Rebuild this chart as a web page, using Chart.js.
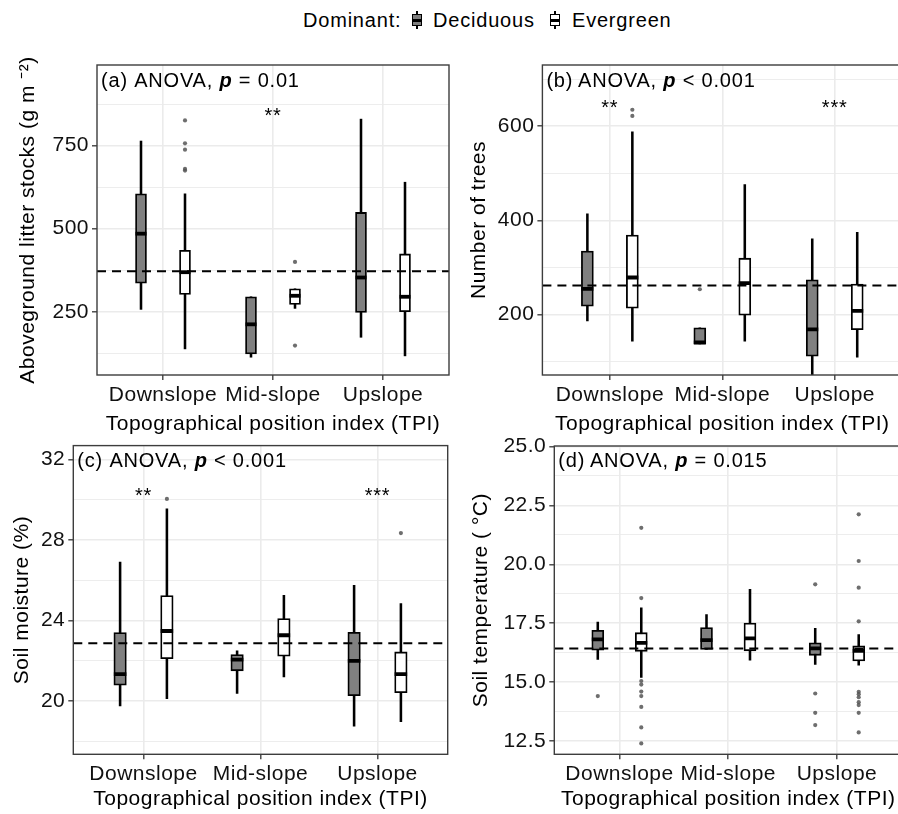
<!DOCTYPE html>
<html>
<head>
<meta charset="utf-8">
<script src="https://cdn.jsdelivr.net/npm/chart.js@4.4.1/dist/chart.umd.min.js"></script>
<style>
  html, body { margin: 0; padding: 0; background: #fff; }
  #fig { position: relative; width: 898px; height: 814px; overflow: hidden; background: #fff; }
  #fig canvas { position: absolute; }
  .lg { position: absolute; top: 8px; font: 20px "Liberation Sans", Arial, sans-serif; letter-spacing: 0.8px; line-height: 24px; color: #000; white-space: nowrap; }
  .key { position: absolute; top: 11px; width: 10px; height: 18px; }
  .key .wh { position: absolute; left: 4px; top: 0; width: 2px; height: 18px; background: #000; }
  .key .bx { position: absolute; left: 0; top: 3px; width: 10px; height: 12px; box-sizing: border-box; border: 1.6px solid #000; }
  .key .md { position: absolute; left: 0; top: 7.5px; width: 10px; height: 3px; background: #000; }
</style>
</head>
<body>
<div id="fig">
  <div id="legend"></div>
  <canvas id="pa" width="462" height="400" style="left:0;top:40px"></canvas>
  <canvas id="pb" width="450" height="400" style="left:462px;top:40px"></canvas>
  <canvas id="pc" width="462" height="384" style="left:0;top:430px"></canvas>
  <canvas id="pd" width="450" height="384" style="left:462px;top:430px"></canvas>
</div>
<script>
// ---- data -------------------------------------------------------------
const positions = ['Downslope', 'Mid-slope', 'Upslope'];
const groups = ['Deciduous', 'Evergreen'];
const groupFill = ['#808080', '#ffffff'];
const xTitle = 'Topographical position index (TPI)';

// box summaries per position: [lower whisker, Q1, median, Q3, upper whisker]
const litterDeciduous = [[257, 336, 485, 605, 764], [113, 123, 212, 295, 295], [173, 248, 353, 549, 830]];
const litterEvergreen = [[138, 302, 369, 435, 605], [260, 272, 298, 319, 319], [117, 250, 295, 424, 640]];
const litterOutDeciduous = [[], [], []];
const litterOutEvergreen = [[826, 757, 738, 680, 675], [400, 148], []];
const litterMean = 372;
const litterTicks = [250, 500, 750];
const litterMinorTicks = [125, 375, 625, 875];
const litterStars = [['**', 2, 855]];

const treesDeciduous = [[187, 218, 255, 335, 414], [138, 138, 141, 172, 172], [55, 112, 169, 274, 361]];
const treesEvergreen = [[144, 214, 279, 369, 588], [144, 199, 267, 320, 476], [110, 168, 208, 265, 375]];
const treesOutDeciduous = [[], [254], []];
const treesOutEvergreen = [[635, 622], [], []];
const treesMean = 262;
const treesTicks = [200, 400, 600];
const treesMinorTicks = [100, 300, 500, 700];
const treesStars = [['**', 1, 651], ['***', 3, 651]];

const moistureDeciduous = [[19.74, 20.78, 21.33, 23.39, 26.9], [20.37, 21.49, 22.05, 22.3, 22.48], [18.74, 20.25, 21.99, 23.41, 25.74]];
const moistureEvergreen = [[20.1, 22.09, 23.47, 25.23, 29.55], [21.19, 22.22, 23.26, 24.09, 25.25], [18.96, 20.4, 21.33, 22.43, 24.83]];
const moistureOutDeciduous = [[], [], []];
const moistureOutEvergreen = [[30.04], [], [28.34]];
const moistureMean = 22.86;
const moistureTicks = [20, 24, 28, 32];
const moistureMinorTicks = [18, 22, 26, 30];
const moistureStars = [['**', 1, 30.44], ['***', 3, 30.44]];

const tempDeciduous = [[15.97, 16.36, 16.82, 17.2, 17.55], [16.39, 16.39, 16.78, 17.32, 17.87], [15.75, 16.14, 16.43, 16.67, 17.28]];
const tempEvergreen = [[15.2, 16.31, 16.67, 17.1, 18.15], [15.93, 16.33, 16.86, 17.51, 18.94], [15.72, 15.9, 16.33, 16.54, 17.02]];
const tempOutDeciduous = [[14.41], [], [19.15, 14.52, 13.7, 13.18]];
const tempOutEvergreen = [[21.55, 18.57, 15.05, 14.9, 14.6, 14.41, 13.95, 13.08, 12.4], [], [22.12, 20.14, 19.01, 17.58, 14.59, 14.49, 14.36, 14.15, 14.03, 13.7, 12.87]];
const tempMean = 16.43;
const tempTicks = [12.5, 15, 17.5, 20, 22.5, 25];
const tempMinorTicks = [13.75, 16.25, 18.75, 21.25, 23.75];
const tempStars = [];

// ---- drawing ----------------------------------------------------------
const FONT = '"Liberation Sans", Arial, sans-serif';
const AXIS_SPACING = '0.5px';
const LABEL_SPACING = '0.8px';
Chart.defaults.font.family = FONT;
Chart.defaults.font.size = 21;
Chart.defaults.color = '#111';

// panel frame, in-panel heading and significance marks
const panelDecor = {
  id: 'panelDecor',
  beforeDraw(chart) { chart.ctx.letterSpacing = AXIS_SPACING; },
  afterDatasetsDraw(chart, args, opts) {
    const { ctx, chartArea: a, scales: { x, y } } = chart;
    ctx.save();
    ctx.letterSpacing = LABEL_SPACING;
    ctx.fillStyle = '#000';
    ctx.textBaseline = 'alphabetic';
    ctx.textAlign = 'center';
    ctx.font = '20px ' + FONT;
    for (const [txt, pos, val] of opts.stars) {
      ctx.fillText(txt, x.getPixelForValue(pos), y.getPixelForValue(val) + 11.5);
    }
    ctx.textAlign = 'left';
    let cx = a.left + 4;
    const by = a.top + opts.labelDy;
    opts.label.forEach((part, k) => {
      ctx.font = (k === 1 ? 'italic bold ' : '') + '20px ' + FONT;
      ctx.fillText(part, cx, by);
      cx += ctx.measureText(part).width;
    });
    ctx.strokeStyle = '#3d3d3d';
    ctx.lineWidth = 1.4;
    ctx.strokeRect(a.left, a.top, a.right - a.left, a.bottom - a.top);
    ctx.restore();
  }
};

function buildPanel(id, p) {
  const dodge = 0.2;
  const sets = [p.dec, p.eve];
  const outs = [p.outDec, p.outEve];
  const xAt = (i, g) => i + 1 + (g === 0 ? -dodge : dodge);

  const whiskers = [], medians = [], outliers = [];
  sets.forEach((arr, g) => arr.forEach((s, i) => {
    whiskers.push({ x: xAt(i, g), y: [s[0], s[4]] });
    medians.push({ x: xAt(i, g), y: s[2] });
  }));
  outs.forEach((arr, g) => arr.forEach((list, i) => list.forEach(v => outliers.push({ x: xAt(i, g), y: v }))));

  const datasets = [
    { type: 'line', label: 'mean', data: [{ x: 0.4, y: p.mean }, { x: 3.6, y: p.mean }],
      borderColor: '#000', borderWidth: 2, borderDash: [9, 6], pointRadius: 0, order: 0 },
    { type: 'scatter', label: 'median', data: medians, pointStyle: 'line', pointRadius: p.box / 2,
      pointBorderWidth: 3.8, pointBorderColor: '#000', order: 1 },
    { type: 'scatter', label: 'outliers', data: outliers, pointRadius: 2.1, pointBorderWidth: 0,
      pointBackgroundColor: 'rgba(85,85,85,0.85)', order: 2 },
    ...sets.map((arr, g) => ({
      type: 'bar', label: groups[g], data: arr.map((s, i) => ({ x: xAt(i, g), y: [s[1], s[3]] })),
      backgroundColor: groupFill[g], borderColor: '#000', borderWidth: 1.8, borderSkipped: false,
      grouped: false, barThickness: p.box, order: 3
    })),
    { type: 'bar', label: 'whiskers', data: whiskers, backgroundColor: '#000', borderWidth: 0,
      grouped: false, barThickness: 1.9, order: 4 }
  ];

  const isMinor = c => !!(c.tick && c.tick.minor);
  new Chart(document.getElementById(id), {
    type: 'bar',
    data: { datasets },
    plugins: [panelDecor],
    options: {
      responsive: false,
      animation: false,
      events: [],
      layout: { padding: { left: 0, top: p.padTop, right: p.padRight, bottom: 0 } },
      plugins: {
        legend: { display: false },
        tooltip: { enabled: false },
        panelDecor: { label: p.label, labelDy: p.labelDy, stars: p.stars }
      },
      scales: {
        x: {
          type: 'linear', min: 0.4, max: 3.6, offset: false, bounds: 'data',
          grid: { offset: false, color: '#ebebeb', lineWidth: 1.6, tickColor: '#333', tickLength: 5, tickWidth: 1.3 },
          border: { display: false },
          ticks: { autoSkip: false, maxRotation: 0, padding: 2.7, color: '#111', callback: v => positions[v - 1] },
          afterBuildTicks: s => { s.ticks = positions.map((_, i) => ({ value: i + 1 })); },
          afterFit: s => { s.height = p.xHeight; },
          title: { display: true, text: xTitle, color: '#000', padding: { top: 0, bottom: p.xTitlePad } }
        },
        y: {
          type: 'linear', min: p.min, max: p.max, bounds: 'data', beginAtZero: false,
          grid: {
            color: '#ebebeb',
            lineWidth: c => isMinor(c) ? 0.9 : 1.6,
            tickColor: c => isMinor(c) ? 'rgba(0,0,0,0)' : '#333',
            tickLength: 5, tickWidth: 1.3
          },
          border: { display: false },
          ticks: { autoSkip: false, padding: 3, color: '#111',
            callback: (v, i, t) => (t[i] && t[i].minor) ? '' : Number(v).toFixed(p.digits) },
          afterBuildTicks: s => {
            s.ticks = p.ticks.map(v => ({ value: v }))
              .concat(p.minorTicks.map(v => ({ value: v, minor: true })))
              .sort((a, b) => a.value - b.value);
          },
          afterFit: s => { s.width = p.yWidth; },
          title: { display: true, text: p.yTitle, color: '#000', padding: { top: p.yTitlePad, bottom: 0 } }
        }
      }
    }
  });
}

buildPanel('pa', {
  dec: litterDeciduous, eve: litterEvergreen, outDec: litterOutDeciduous, outEve: litterOutEvergreen,
  mean: litterMean, ticks: litterTicks, minorTicks: litterMinorTicks, stars: litterStars,
  min: 59.4, max: 993, digits: 0, box: 11,
  yTitle: 'Aboveground litter stocks (g m \u207B\u00B2)', label: ['(a) ANOVA, ', 'p', ' = 0.01'],
  yWidth: 97, xHeight: 65, padTop: 25, padRight: 13, yTitlePad: 15.4, xTitlePad: 2.9, labelDy: 22
});
buildPanel('pb', {
  dec: treesDeciduous, eve: treesEvergreen, outDec: treesOutDeciduous, outEve: treesOutEvergreen,
  mean: treesMean, ticks: treesTicks, minorTicks: treesMinorTicks, stars: treesStars,
  min: 72, max: 730, digits: 0, box: 12,
  yTitle: 'Number of trees', label: ['(b)\u2009ANOVA, ', 'p', ' < 0.001'],
  yWidth: 80.4, xHeight: 65, padTop: 25, padRight: 7.4, yTitlePad: 4.9, xTitlePad: 2.9, labelDy: 22
});
buildPanel('pc', {
  dec: moistureDeciduous, eve: moistureEvergreen, outDec: moistureOutDeciduous, outEve: moistureOutEvergreen,
  mean: moistureMean, ticks: moistureTicks, minorTicks: moistureMinorTicks, stars: moistureStars,
  min: 17.34, max: 32.69, digits: 0, box: 12.5,
  yTitle: 'Soil moisture (%)', label: ['(c) ANOVA, ', 'p', ' < 0.001'],
  yWidth: 73.3, xHeight: 59.7, padTop: 15, padRight: 14.3, yTitlePad: 9.4, xTitlePad: 2.2, labelDy: 21.5
});
buildPanel('pd', {
  dec: tempDeciduous, eve: tempEvergreen, outDec: tempOutDeciduous, outEve: tempOutEvergreen,
  mean: tempMean, ticks: tempTicks, minorTicks: tempMinorTicks, stars: tempStars,
  min: 11.94, max: 25.02, digits: 1, box: 12,
  yTitle: 'Soil temperature ( \u00B0C)', label: ['(d)\u2009ANOVA, ', 'p', ' = 0.015'],
  yWidth: 92.3, xHeight: 59.7, padTop: 16, padRight: 7.3, yTitlePad: 6.4, xTitlePad: 2.2, labelDy: 21
});

// shared legend across the four panels
(function buildLegend() {
  const host = document.getElementById('legend');
  const place = (html, cls, left) => {
    const el = document.createElement('div');
    el.className = cls;
    el.style.left = left + 'px';
    el.innerHTML = html;
    host.appendChild(el);
    return el;
  };
  place('Dominant:', 'lg', 303);
  const keyLeft = [412, 550];
  const textLeft = [433, 572];
  groups.forEach((g, k) => {
    place('<div class="wh"></div><div class="bx" style="background:' + groupFill[k] + '"></div><div class="md"></div>', 'key', keyLeft[k]);
    place(g, 'lg', textLeft[k]);
  });
})();
</script>
</body>
</html>
